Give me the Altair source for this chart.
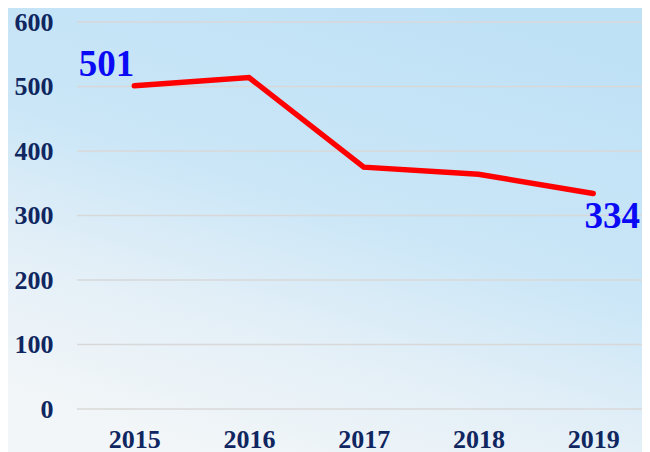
import altair as alt
import pandas as pd

years = ["2015", "2016", "2017", "2018", "2019"]
values = [501, 514, 375, 364, 334]

first_year = ["2015"]
first_value = [501]
last_year = ["2019"]
last_value = [334]

grid_values = [0, 100, 200, 300, 400, 500, 600]

df = pd.DataFrame({"year": years, "value": values})
df_first = pd.DataFrame({"year": first_year, "value": first_value})
df_last = pd.DataFrame({"year": last_year, "value": last_value})
df_grid = pd.DataFrame({"g": grid_values})

W = 565
H = 387
PAD_L, PAD_T, PAD_R, PAD_B = 69, 14, 0, 44

x_scale = alt.Scale(type="point", padding=0.462, align=0.54)
y_scale = alt.Scale(domain=[0, 600])

axis_font = "Liberation Serif"
axis_color = "#0f2660"

bg = alt.Chart(pd.DataFrame({"k": [0]})).mark_rect(
    color=alt.Gradient(
        gradient="linear",
        x1=0.75, y1=0, x2=0.3, y2=1,
        stops=[
            alt.GradientStop(color="#bfe1f6", offset=0),
            alt.GradientStop(color="#cae6f7", offset=0.45),
            alt.GradientStop(color="#e3eff7", offset=0.72),
            alt.GradientStop(color="#f2f6f8", offset=1),
        ],
    )
).encode(
    x=alt.value(-PAD_L),
    x2=alt.value(W + PAD_R),
    y=alt.value(-PAD_T),
    y2=alt.value(H + PAD_B),
)

grid = alt.Chart(df_grid).mark_rule(color="#d8d8d8", strokeWidth=1.5).encode(
    y=alt.Y("g:Q", scale=y_scale),
    x=alt.value(0),
    x2=alt.value(W),
)

line = alt.Chart(df).mark_line(
    color="#ff0000", strokeWidth=5.5, strokeCap="round", strokeJoin="miter"
).encode(
    x=alt.X("year:N", scale=x_scale, sort=years, axis=alt.Axis(
        title=None, labelAngle=0, labelFont=axis_font, labelFontSize=26,
        labelFontWeight="bold", labelColor=axis_color, ticks=False, tickSize=0,
        domain=False, grid=False, labelPadding=17, zindex=1,
    )),
    y=alt.Y("value:Q", scale=y_scale, axis=alt.Axis(
        title=None, values=grid_values,
        labelFont=axis_font, labelFontSize=26, labelFontWeight="bold",
        labelColor=axis_color, ticks=False, tickSize=0, domain=False,
        grid=False, labelPadding=24, zindex=1,
    )),
)

lab_first = alt.Chart(df_first).mark_text(
    font=axis_font, fontSize=37, fontWeight="bold", color="#0a0af5",
    align="right", baseline="alphabetic", dx=0, dy=-10,
).encode(
    x=alt.X("year:N", scale=x_scale, sort=years),
    y=alt.Y("value:Q", scale=y_scale),
    text="value:Q",
)

lab_last = alt.Chart(df_last).mark_text(
    font=axis_font, fontSize=37, fontWeight="bold", color="#0a0af5",
    align="center", baseline="top", dx=19, dy=5,
).encode(
    x=alt.X("year:N", scale=x_scale, sort=years),
    y=alt.Y("value:Q", scale=y_scale),
    text="value:Q",
)

chart = alt.layer(bg, grid, line, lab_first, lab_last).properties(
    width=W, height=H,
    autosize=alt.AutoSizeParams(type="none"),
    padding={"left": PAD_L, "top": PAD_T, "right": PAD_R, "bottom": PAD_B},
).configure_view(stroke=None).configure(background="#e3eff8")

chart.save("out.html", embed_options={"renderer": "svg", "actions": False})
